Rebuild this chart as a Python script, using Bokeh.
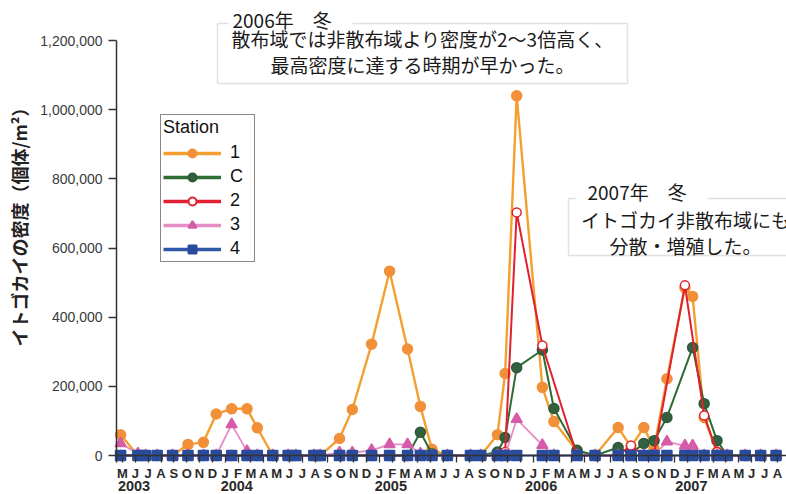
import numpy as np
from bokeh.plotting import figure
from bokeh.models import (Range1d, FixedTicker, NumeralTickFormatter, Label, LinearAxis,
                          BoxAnnotation, ColumnDataSource, Legend, LegendItem)
from bokeh.embed import file_html
from bokeh.resources import INLINE

# Sampling dates, in months counted from May 2003 (0 = May 2003, 12 = May 2004 ...)
sample_month = [-0.15, 1.2, 1.8, 2.7, 3.9, 5.1, 6.3, 7.3, 8.5, 9.7,
                10.5, 11.7, 12.9, 13.5, 14.9, 15.4, 16.9, 17.9, 19.4, 20.8,
                22.2, 23.2, 24.1, 25.3, 27.1, 27.9, 29.2, 29.8, 30.7, 32.7,
                33.6, 35.4, 36.8, 38.6, 39.6, 40.6, 41.4, 42.4, 43.8, 44.4,
                45.3, 46.3, 47.1, 48.5, 49.7, 50.9]

# Density of Capitella (individuals / m2) per station; None = no sample
station_1 = [60000, 0, 0, 0, 0, 32000, 38000, 120000, 135000, 135000,
             80000, 0, 0, 0, 0, 0, 49000, 133000, 322000, 533000,
             308000, 142000, 18000, 0, 0, 0, 60000, 237000, 1040000, 197000,
             98000, 12000, 0, 81000, 25000, 81000, 20000, 222000, 485000, 460000,
             110000, 10000, 0, 0, 0, 0]
station_c = [0, 0, 0, 0, 0, 0, 0, 0, 0, 0,
             0, 0, 0, 0, 0, 0, 0, 0, 0, 0,
             0, 67000, 5000, 0, 0, 0, 10000, 52000, 254000, 305000,
             136000, 15000, 0, 23000, 5000, 35000, 43000, 110000, None, 312000,
             150000, 43000, 0, 0, 0, 0]
station_2 = [0, 0, 0, 0, 0, 0, 0, 0, 0, 0,
             0, 0, 0, 0, 0, 0, 0, 0, 0, 0,
             0, 0, 0, 0, 0, 0, 0, 10000, 703000, 318000,
             None, 0, 0, 0, 29000, 0, 5000, None, 492000, None,
             116000, 10000, 0, 0, 0, 0]
station_3 = [35000, 5000, 0, 0, 0, 0, 0, 0, 90000, 12000,
             0, 0, 0, 0, 0, 0, 8000, 8000, 15000, 32000,
             32000, 5000, 0, 0, 0, 0, 0, 0, 105000, 30000,
             0, 0, 0, 0, 0, 0, 0, 40000, 28000, 28000,
             0, 0, 0, 0, 0, 0]
station_4 = [0, 0, 0, 0, 0, 0, 0, 0, 0, 0,
             0, 0, 0, 0, 0, 0, 0, 0, 0, 0,
             0, 0, 0, 0, 0, 0, 0, 0, 0, 0,
             0, 0, 0, 0, 0, 0, 0, 0, 0, 0,
             0, 0, 0, 0, 0, 0]

STATION_NAMES = ["1", "C", "2", "3", "4"]
MONTH_INITIALS = ["J", "F", "M", "A", "M", "J", "J", "A", "S", "O", "N", "D"]
FIRST_MONTH = 4          # axis starts in May
N_MONTHS = 52            # May 2003 .. Aug 2007
YEARS = ["2003", "2004", "2005", "2006", "2007"]
YEAR_LABEL_SHIFT = [0.9, 0.9, 0.9, 0.6, 0.3]   # label offset from the year's first month
Y_TICKS = [0, 200000, 400000, 600000, 800000, 1000000, 1200000]

JP = "Noto Sans CJK JP"
LAT = "Liberation Sans"
W, H = 786, 494

# The plotting frame covers the whole canvas; axes are pinned inside it so that
# the notes above the data area are not clipped.
X0, X1 = -9.502, 51.713          # month range across the canvas
Y0, Y1 = -112771, 1315663        # density range across the canvas
AXIS_X = -0.467                  # where the density axis sits
p = figure(width=W, height=H, output_backend="svg", toolbar_location=None,
           x_range=Range1d(X0, X1), y_range=Range1d(Y0, Y1),
           x_axis_type=None, y_axis_type=None,
           min_border=0, outline_line_color=None,
           background_fill_color="white", border_fill_color="white")
p.xgrid.visible = False
p.ygrid.visible = False

# month axis along zero density
xa = LinearAxis(fixed_location=0, bounds=(AXIS_X, X1))
xa.ticker = FixedTicker(ticks=list(range(N_MONTHS)))
xa.major_label_overrides = {i: MONTH_INITIALS[(FIRST_MONTH + i) % 12] for i in range(N_MONTHS)}
xa.axis_line_color = "#333333"
xa.axis_line_width = 1.5
xa.major_tick_in = 0
xa.major_tick_out = 7
xa.major_tick_line_color = "#333333"
xa.major_tick_line_width = 1.3
xa.minor_tick_line_color = None
xa.major_label_standoff = 3
xa.major_label_text_font = LAT
xa.major_label_text_font_size = "13px"
xa.major_label_text_font_style = "bold"
xa.major_label_text_color = "#2a2a2a"
p.add_layout(xa, "below")

# year labels under the month letters
year_pos = [max(k * 12 - FIRST_MONTH, 0) + s for k, s in enumerate(YEAR_LABEL_SHIFT)]
yr_axis = LinearAxis(fixed_location=0)
yr_axis.ticker = FixedTicker(ticks=year_pos)
yr_axis.major_label_overrides = {pos: yr for pos, yr in zip(year_pos, YEARS)}
yr_axis.axis_line_color = None
yr_axis.major_tick_line_color = None
yr_axis.minor_tick_line_color = None
yr_axis.major_tick_in = 0
yr_axis.major_tick_out = 0
yr_axis.major_label_standoff = 25
yr_axis.major_label_text_font = LAT
yr_axis.major_label_text_font_size = "14.5px"
yr_axis.major_label_text_font_style = "bold"
yr_axis.major_label_text_color = "#2a2a2a"
p.add_layout(yr_axis, "below")

# density axis
ya = LinearAxis(fixed_location=AXIS_X, bounds=(-20000, 1200000))
ya.ticker = FixedTicker(ticks=Y_TICKS)
ya.formatter = NumeralTickFormatter(format="0,0")
ya.axis_line_color = "#333333"
ya.axis_line_width = 1.5
ya.major_tick_out = 8
ya.major_tick_in = 0
ya.major_tick_line_color = "#333333"
ya.major_tick_line_width = 1.3
ya.minor_tick_line_color = None
ya.major_label_standoff = 6
ya.major_label_text_font = LAT
ya.major_label_text_font_size = "14px"
ya.major_label_text_color = "#3a3a3a"
p.add_layout(ya, "left")

styles = [
    dict(line_color="#F4A030", marker="circle", size=10, fill_color="#F2903A", mline="#F2903A", lw=2.4),
    dict(line_color="#2F6B35", marker="circle", size=10, fill_color="#33603F", mline="#2E5A38", lw=2.0),
    dict(line_color="#E0202E", marker="circle", size=9, fill_color="white", mline="#E0202E", lw=2.0),
    dict(line_color="#E58BC5", marker="triangle", size=11, fill_color="#D65BA8", mline="#D65BA8", lw=1.8),
    dict(line_color="#2E57A8", marker="square", size=10, fill_color="#2A4B9B", mline="#2A4B9B", lw=2.0),
]

items = []
for name, series, st in zip(STATION_NAMES,
                            [station_1, station_c, station_2, station_3, station_4],
                            styles):
    xs = [m for m, v in zip(sample_month, series) if v is not None]
    ys = [v for v in series if v is not None]
    src = ColumnDataSource(dict(x=xs, y=ys))
    p.line("x", "y", source=src, line_color=st["line_color"], line_width=st["lw"])
    p.scatter("x", "y", source=src, marker=st["marker"], size=st["size"],
              fill_color=st["fill_color"], line_color=st["mline"], line_width=1.5)
    # larger symbols for the key (a single NaN point, never drawn in the plot)
    key_src = ColumnDataSource(dict(x=[np.nan], y=[np.nan]))
    kl = p.line("x", "y", source=key_src, line_color=st["line_color"], line_width=3.5)
    ks = p.scatter("x", "y", source=key_src, marker=st["marker"], size=st["size"] + 5,
                   fill_color=st["fill_color"], line_color=st["mline"], line_width=2)
    items.append(LegendItem(label=name, renderers=[kl, ks]))

legend = Legend(items=items, location=(160, 232), title="Station",
                title_text_font=LAT, title_text_font_size="18px",
                title_text_font_style="normal", title_text_color="#111111",
                title_standoff=4,
                label_text_font=LAT, label_text_font_size="18px", label_text_color="#111111",
                glyph_width=58, glyph_height=20, label_height=20, label_width=22,
                label_standoff=9, spacing=3, padding=2, margin=0,
                border_line_color="#111111", border_line_width=1.5,
                background_fill_color="white", background_fill_alpha=1.0)
p.add_layout(legend)

# vertical axis title
p.add_layout(Label(x=18, y=H - 222, x_units="screen", y_units="screen",
                   text="イトゴカイの密度（個体/m²）", angle=np.pi / 2,
                   text_align="center", text_baseline="middle",
                   text_font=JP, text_font_size="18px", text_font_style="bold",
                   text_color="#222222"))


def screen_box(left, right, top, bottom, **kw):
    """Rectangle given in canvas pixels (top-left origin)."""
    return BoxAnnotation(left=left, right=right, top=H - top, bottom=H - bottom,
                         left_units="screen", right_units="screen",
                         top_units="screen", bottom_units="screen", **kw)


# annotation boxes: frame, a gap in the top edge for the heading, two centred lines
def note_box(left, right, top, bottom, gap, cx, cy, lines, tx, ty, title):
    p.add_layout(screen_box(left, right, top, bottom, fill_color="white", fill_alpha=1.0,
                            line_color="#9d9d9d", line_width=1.4))
    p.add_layout(screen_box(gap[0], gap[1], top - 4, top + 4, fill_color="white",
                            fill_alpha=1.0, line_color=None))
    p.add_layout(Label(x=cx, y=H - cy, x_units="screen", y_units="screen",
                       text="\n".join(lines), text_align="center", text_baseline="middle",
                       text_font=JP, text_font_size="19px", text_color="#1a1a1a",
                       text_line_height=0.95))
    p.add_layout(Label(x=tx, y=H - ty, x_units="screen", y_units="screen",
                       text=title, text_align="left", text_baseline="middle",
                       text_font=JP, text_font_size="19px", text_color="#1a1a1a"))


note_box(217, 627, 23, 83, (228, 352), 422, 51,
         ["散布域では非散布域より密度が2〜3倍高く、", "最高密度に達する時期が早かった。"],
         232, 19, "2006年　冬")
note_box(568, 820, 198, 255, (576, 707), 685, 232,
         ["イトゴカイ非散布域にも", "分散・増殖した。"],
         587, 191, "2007年　冬")

open("out.html", "w").write(file_html(p, INLINE))
